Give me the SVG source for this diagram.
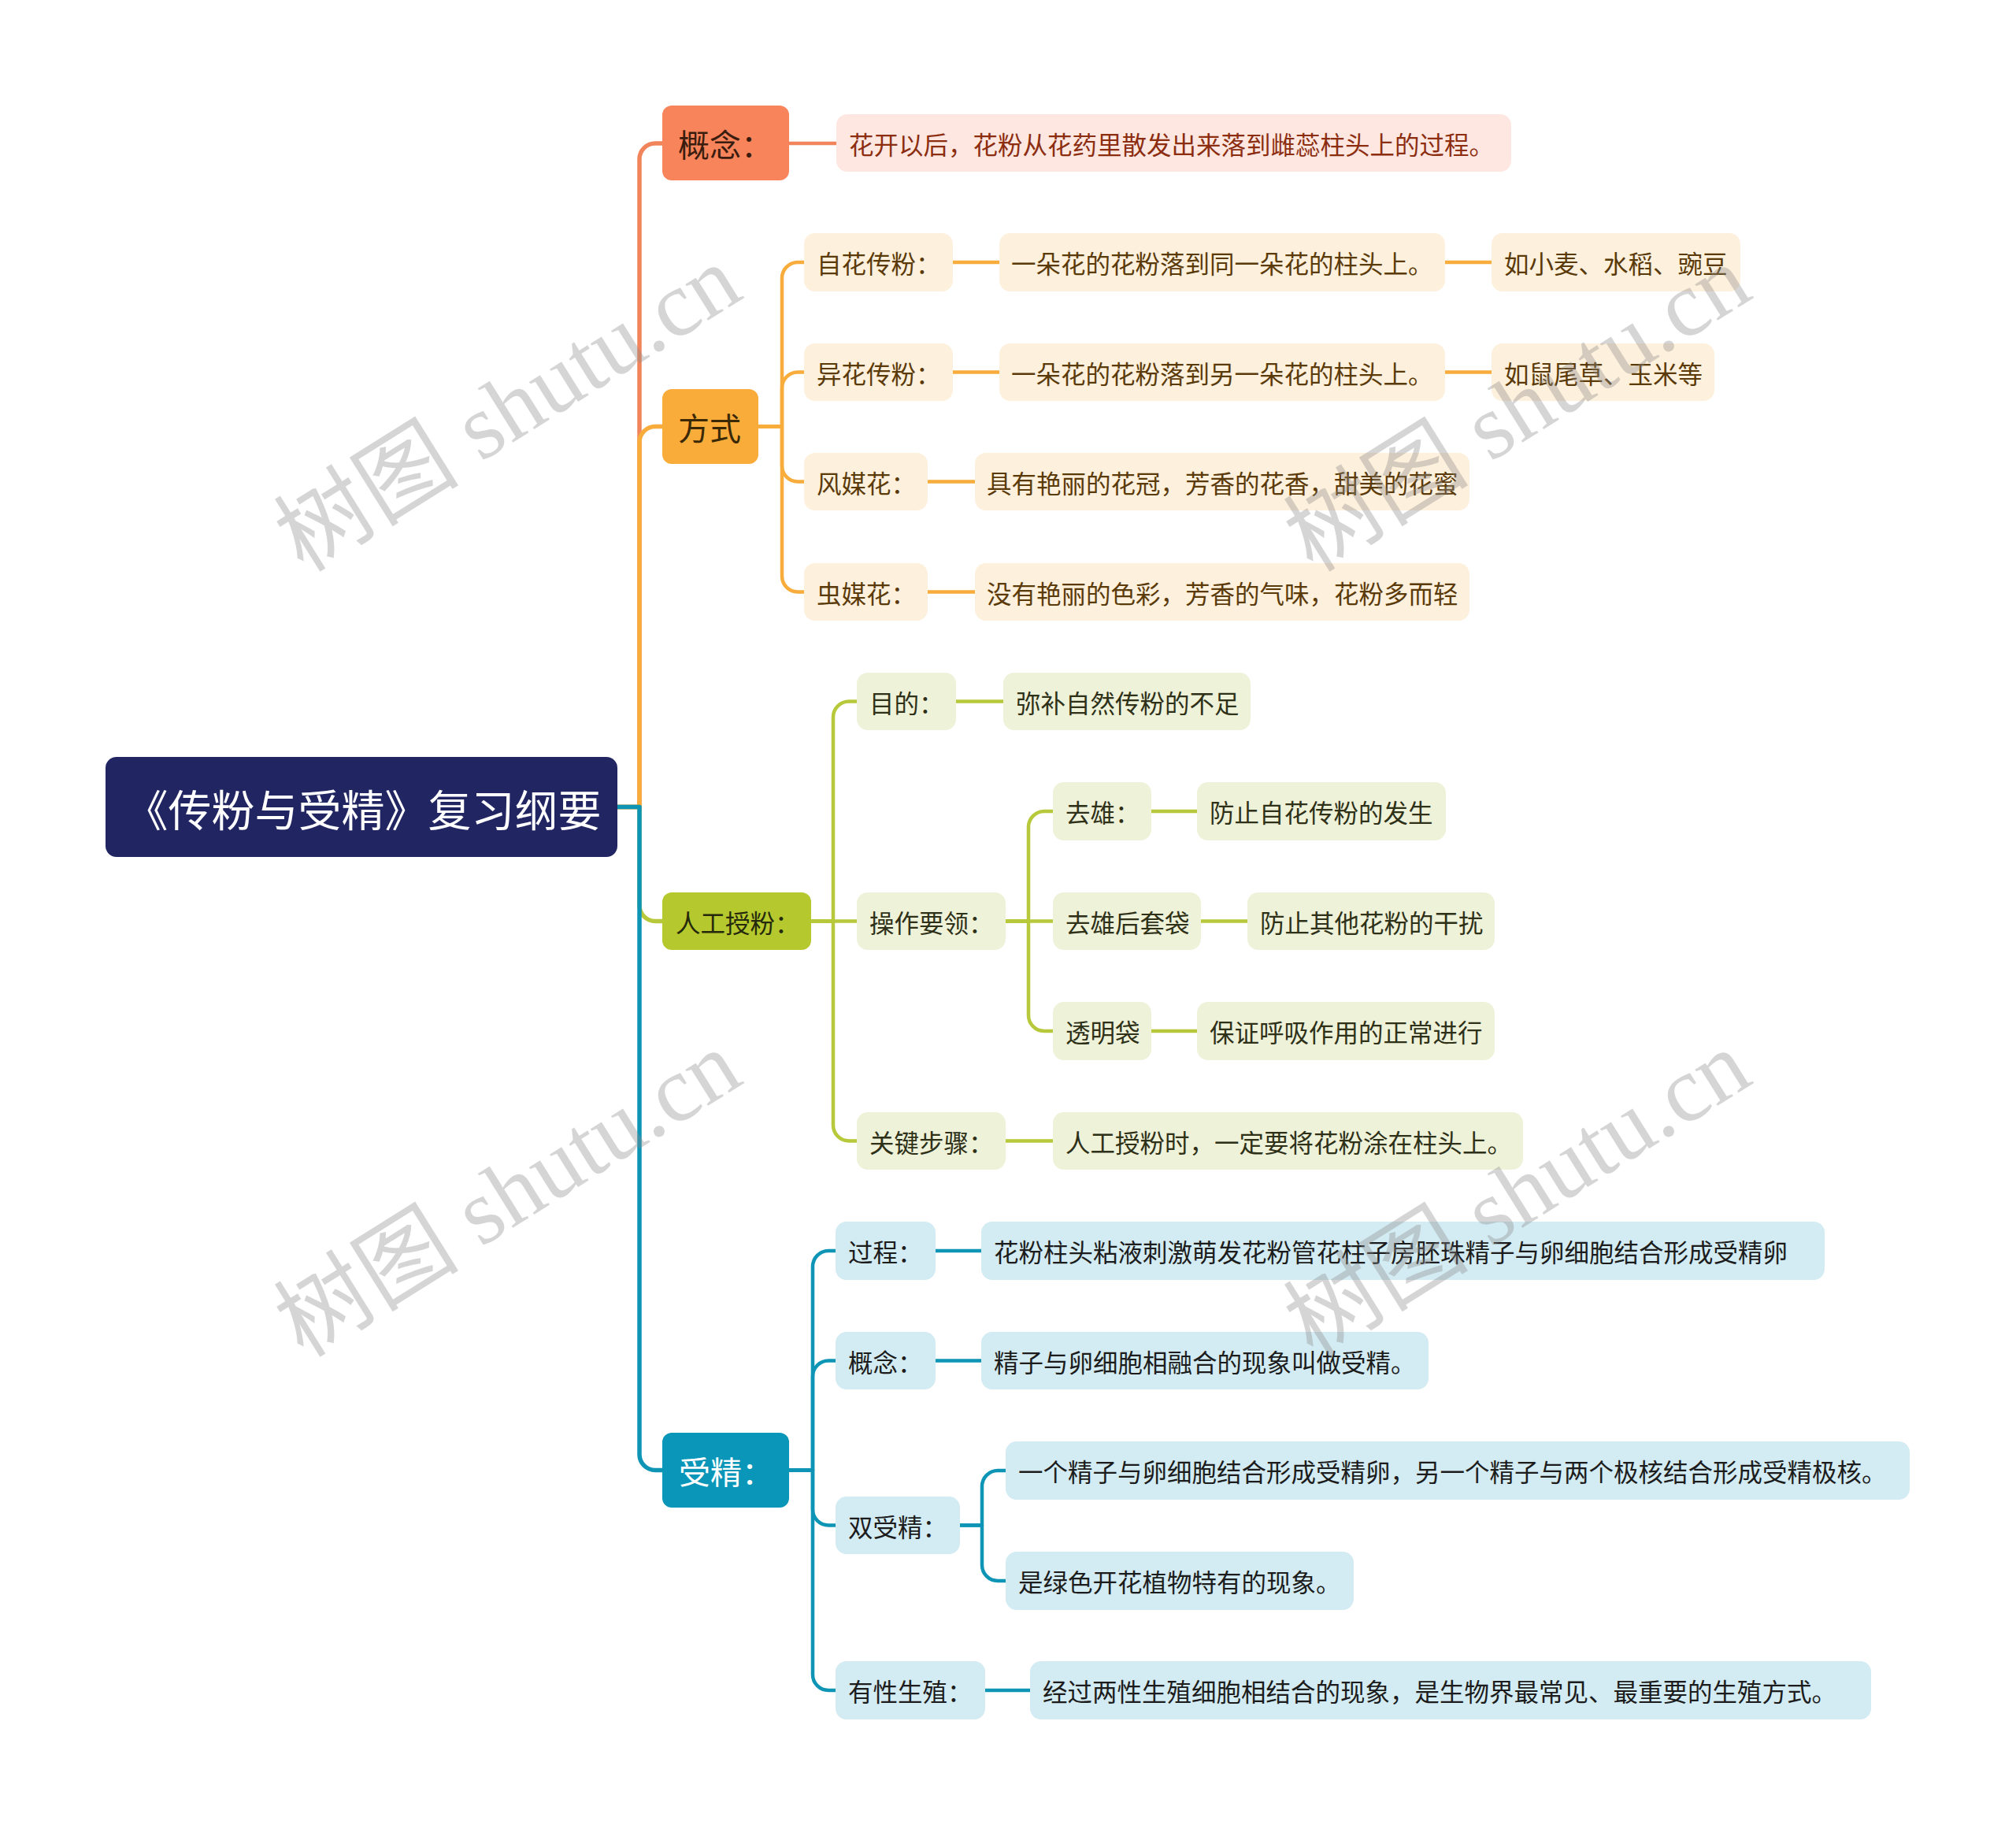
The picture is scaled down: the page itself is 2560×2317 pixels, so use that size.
<svg xmlns="http://www.w3.org/2000/svg" width="2560" height="2317" viewBox="0 0 2560 2317">
<style>
text{font-family:"Noto Sans CJK SC","Liberation Sans",sans-serif;dominant-baseline:central}
.l1{font-size:40px}
.l2{font-size:31.5px}
.c{fill:none;stroke-linecap:butt;stroke-linejoin:round}
.t{stroke-width:5.5}
.s{stroke-width:4.5}
.or{stroke:#F1845B}
.ya{stroke:#F7AC3C}
.gr{stroke:#B7C93A}
.bl{stroke:#0E95B6}
.npk{fill:#FDE7E0}
.ncr{fill:#FDF0DC}
.nol{fill:#EEF2D9}
.nbl{fill:#D3EBF2}
.tpk{fill:#8C2D10}
.tcr{fill:#5B3A09}
.tol{fill:#2E3018}
.tbl{fill:#1C1C1C}
.wm{font-family:"Liberation Serif","Noto Sans CJK SC",serif;font-size:118px;fill:#8a8a8a;fill-opacity:0.36;text-anchor:middle}
</style>
<rect width="2560" height="2317" fill="#FFFFFF"/>
<g id="connectors">
<path class="c t or" d="M784,1024.5 H812 V202 A20,20 0 0 1 832,182 H841"/>
<path class="c t ya" d="M784,1024.5 H812 V561.5 A20,20 0 0 1 832,541.5 H841"/>
<path class="c t gr" d="M784,1024.5 H812 V1149.5 A20,20 0 0 0 832,1169.5 H841"/>
<path class="c t bl" d="M784,1024.5 H812 V1846.5 A20,20 0 0 0 832,1866.5 H841"/>
<path class="c s or" d="M1002,182 H1062"/>
<path class="c s ya" d="M963,541.5 H993 V353 A20,20 0 0 1 1013,333 H1021"/>
<path class="c s ya" d="M963,541.5 H993 V492.5 A20,20 0 0 1 1013,472.5 H1021"/>
<path class="c s ya" d="M963,541.5 H993 V591.5 A20,20 0 0 0 1013,611.5 H1021"/>
<path class="c s ya" d="M963,541.5 H993 V731.5 A20,20 0 0 0 1013,751.5 H1021"/>
<path class="c s ya" d="M1210,333 H1269 M1835,333 H1894 M1210,472.5 H1269 M1835,472.5 H1894 M1178,611.5 H1238 M1178,751.5 H1238"/>
<path class="c s gr" d="M1030,1169.5 H1058 V910.5 A20,20 0 0 1 1078,890.5 H1088"/>
<path class="c s gr" d="M1030,1169.5 H1088"/>
<path class="c s gr" d="M1030,1169.5 H1058 V1428.5 A20,20 0 0 0 1078,1448.5 H1088"/>
<path class="c s gr" d="M1214,890.5 H1274 M1277,1448.5 H1337"/>
<path class="c s gr" d="M1277,1169.5 H1306 V1050 A20,20 0 0 1 1326,1030 H1337"/>
<path class="c s gr" d="M1277,1169.5 H1337"/>
<path class="c s gr" d="M1277,1169.5 H1306 V1289 A20,20 0 0 0 1326,1309 H1337"/>
<path class="c s gr" d="M1462,1030 H1520 M1525,1169.5 H1584 M1462,1309 H1520"/>
<path class="c s bl" d="M1002,1866.5 H1032 V1608 A20,20 0 0 1 1052,1588 H1061"/>
<path class="c s bl" d="M1002,1866.5 H1032 V1747.5 A20,20 0 0 1 1052,1727.5 H1061"/>
<path class="c s bl" d="M1002,1866.5 H1032 V1916.5 A20,20 0 0 0 1052,1936.5 H1061"/>
<path class="c s bl" d="M1002,1866.5 H1032 V2126 A20,20 0 0 0 1052,2146 H1061"/>
<path class="c s bl" d="M1188,1588 H1246 M1188,1727.5 H1246 M1251,2146 H1308"/>
<path class="c s bl" d="M1219,1936.5 H1247 V1887 A20,20 0 0 1 1267,1867 H1277"/>
<path class="c s bl" d="M1219,1936.5 H1247 V1987 A20,20 0 0 0 1267,2007 H1277"/>
</g>
<g id="root"><rect x="134" y="961" width="650" height="127" rx="14" fill="#212663"/><text x="461" y="1024.5" font-size="55" fill="#FFFFFF" text-anchor="middle">《传粉与受精》复习纲要</text></g>
<g id="n-gainian"><rect x="841" y="134" width="161" height="95" rx="12" fill="#F7845A"/><text class="l1" x="861" y="181.5" fill="#3A1D0E">概念：</text></g>
<g id="n-gainian-1"><rect class="npk" x="1062" y="145" width="857" height="73" rx="14"/><text class="l2 tpk" x="1078" y="181.5">花开以后，花粉从花药里散发出来落到雌蕊柱头上的过程。</text></g>
<g id="n-fangshi"><rect x="841" y="494" width="122" height="95" rx="12" fill="#F9AC3A"/><text class="l1" x="861" y="541.5" fill="#3B2906">方式</text></g>
<g id="n-zihua"><rect class="ncr" x="1021" y="296" width="189" height="74" rx="14"/><text class="l2 tcr" x="1037" y="333">自花传粉：</text></g>
<g id="n-zihua-1"><rect class="ncr" x="1269" y="296" width="566" height="74" rx="14"/><text class="l2 tcr" x="1284" y="333">一朵花的花粉落到同一朵花的柱头上。</text></g>
<g id="n-zihua-2"><rect class="ncr" x="1894" y="296" width="316" height="74" rx="14"/><text class="l2 tcr" x="1910" y="333">如小麦、水稻、豌豆</text></g>
<g id="n-yihua"><rect class="ncr" x="1021" y="436" width="189" height="73" rx="14"/><text class="l2 tcr" x="1037" y="472.5">异花传粉：</text></g>
<g id="n-yihua-1"><rect class="ncr" x="1269" y="436" width="566" height="73" rx="14"/><text class="l2 tcr" x="1284" y="472.5">一朵花的花粉落到另一朵花的柱头上。</text></g>
<g id="n-yihua-2"><rect class="ncr" x="1894" y="436" width="283" height="73" rx="14"/><text class="l2 tcr" x="1910" y="472.5">如鼠尾草、玉米等</text></g>
<g id="n-fengmei"><rect class="ncr" x="1021" y="575" width="157" height="73" rx="14"/><text class="l2 tcr" x="1037" y="611.5">风媒花：</text></g>
<g id="n-fengmei-1"><rect class="ncr" x="1238" y="575" width="628" height="73" rx="14"/><text class="l2 tcr" x="1253" y="611.5">具有艳丽的花冠，芳香的花香，甜美的花蜜</text></g>
<g id="n-chongmei"><rect class="ncr" x="1021" y="715" width="157" height="73" rx="14"/><text class="l2 tcr" x="1037" y="751.5">虫媒花：</text></g>
<g id="n-chongmei-1"><rect class="ncr" x="1238" y="715" width="628" height="73" rx="14"/><text class="l2 tcr" x="1253" y="751.5">没有艳丽的色彩，芳香的气味，花粉多而轻</text></g>
<g id="n-rengong"><rect x="841" y="1133" width="189" height="73" rx="12" fill="#B5C82E"/><text class="l2" x="858" y="1169.5" fill="#252A0C">人工授粉：</text></g>
<g id="n-mudi"><rect class="nol" x="1088" y="854" width="126" height="73" rx="14"/><text class="l2 tol" x="1104" y="890.5">目的：</text></g>
<g id="n-mudi-1"><rect class="nol" x="1274" y="854" width="314" height="73" rx="14"/><text class="l2 tol" x="1290" y="890.5">弥补自然传粉的不足</text></g>
<g id="n-caozuo"><rect class="nol" x="1088" y="1133" width="189" height="73" rx="14"/><text class="l2 tol" x="1104" y="1169.5">操作要领：</text></g>
<g id="n-quxiong"><rect class="nol" x="1337" y="993" width="125" height="74" rx="14"/><text class="l2 tol" x="1353" y="1030">去雄：</text></g>
<g id="n-quxiong-1"><rect class="nol" x="1520" y="993" width="316" height="74" rx="14"/><text class="l2 tol" x="1536" y="1030">防止自花传粉的发生</text></g>
<g id="n-taodai"><rect class="nol" x="1337" y="1133" width="188" height="73" rx="14"/><text class="l2 tol" x="1353" y="1169.5">去雄后套袋</text></g>
<g id="n-taodai-1"><rect class="nol" x="1584" y="1133" width="314" height="73" rx="14"/><text class="l2 tol" x="1600" y="1169.5">防止其他花粉的干扰</text></g>
<g id="n-touming"><rect class="nol" x="1337" y="1272" width="125" height="74" rx="14"/><text class="l2 tol" x="1353" y="1309">透明袋</text></g>
<g id="n-touming-1"><rect class="nol" x="1520" y="1272" width="378" height="74" rx="14"/><text class="l2 tol" x="1536" y="1309">保证呼吸作用的正常进行</text></g>
<g id="n-guanjian"><rect class="nol" x="1088" y="1412" width="189" height="73" rx="14"/><text class="l2 tol" x="1104" y="1448.5">关键步骤：</text></g>
<g id="n-guanjian-1"><rect class="nol" x="1337" y="1412" width="597" height="73" rx="14"/><text class="l2 tol" x="1353" y="1448.5">人工授粉时，一定要将花粉涂在柱头上。</text></g>
<g id="n-shoujing"><rect x="841" y="1819" width="161" height="95" rx="12" fill="#0A96B8"/><text class="l1" x="862" y="1866.5" fill="#FFFFFF">受精：</text></g>
<g id="n-guocheng"><rect class="nbl" x="1061" y="1551" width="127" height="74" rx="14"/><text class="l2 tbl" x="1077" y="1588">过程：</text></g>
<g id="n-guocheng-1"><rect class="nbl" x="1246" y="1551" width="1071" height="74" rx="14"/><text class="l2 tbl" x="1262" y="1588">花粉柱头粘液刺激萌发花粉管花柱子房胚珠精子与卵细胞结合形成受精卵</text></g>
<g id="n-gainian2"><rect class="nbl" x="1061" y="1691" width="127" height="73" rx="14"/><text class="l2 tbl" x="1077" y="1727.5">概念：</text></g>
<g id="n-gainian2-1"><rect class="nbl" x="1246" y="1691" width="568" height="73" rx="14"/><text class="l2 tbl" x="1262" y="1727.5">精子与卵细胞相融合的现象叫做受精。</text></g>
<g id="n-shuang"><rect class="nbl" x="1061" y="1900" width="158" height="73" rx="14"/><text class="l2 tbl" x="1077" y="1936.5">双受精：</text></g>
<g id="n-shuang-1"><rect class="nbl" x="1277" y="1830" width="1148" height="74" rx="14"/><text class="l2 tbl" x="1293" y="1867">一个精子与卵细胞结合形成受精卵，另一个精子与两个极核结合形成受精极核。</text></g>
<g id="n-shuang-2"><rect class="nbl" x="1277" y="1970" width="442" height="74" rx="14"/><text class="l2 tbl" x="1293" y="2007">是绿色开花植物特有的现象。</text></g>
<g id="n-youxing"><rect class="nbl" x="1061" y="2109" width="190" height="74" rx="14"/><text class="l2 tbl" x="1077" y="2146">有性生殖：</text></g>
<g id="n-youxing-1"><rect class="nbl" x="1308" y="2109" width="1068" height="74" rx="14"/><text class="l2 tbl" x="1324" y="2146">经过两性生殖细胞相结合的现象，是生物界最常见、最重要的生殖方式。</text></g>
<g id="watermarks">
<text class="wm" transform="translate(645,519) rotate(-32)">树图 shutu.cn</text>
<text class="wm" transform="translate(1927,519) rotate(-32)">树图 shutu.cn</text>
<text class="wm" transform="translate(645,1516) rotate(-32)">树图 shutu.cn</text>
<text class="wm" transform="translate(1927,1516) rotate(-32)">树图 shutu.cn</text>
</g>
</svg>
